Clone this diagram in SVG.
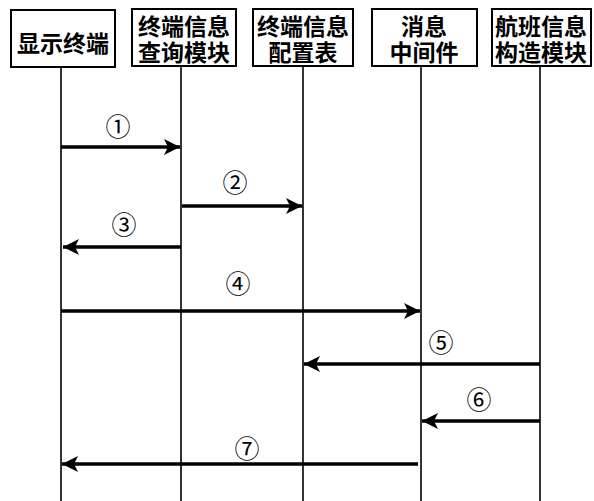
<svg xmlns="http://www.w3.org/2000/svg" width="594" height="501" viewBox="0 0 594 501">
<style>
.box{fill:#fff;stroke:#000;stroke-width:2}
.life{stroke:#000;stroke-width:1.6}
.t{font-family:"Noto Sans CJK SC",sans-serif;font-size:23px;font-weight:bold;text-anchor:middle;fill:#000}
.msg{stroke:#000;stroke-width:3.5;fill:none}
.n{font-family:"Noto Sans CJK SC",sans-serif;font-size:25px;text-anchor:middle;fill:#000}
</style>
<defs>
<marker id="ah" markerUnits="userSpaceOnUse" markerWidth="18" markerHeight="18" refX="16" refY="9" orient="auto">
<path d="M0,1 L16,9 L0,17 L4,9 Z" fill="#000"/>
</marker>
</defs>
<rect width="594" height="501" fill="#fff"/>
<g id="lifelines">
<line class="life" x1="61" y1="67" x2="61" y2="501"/>
<line class="life" x1="181" y1="66" x2="181" y2="501"/>
<line class="life" x1="303" y1="66" x2="303" y2="501"/>
<line class="life" x1="421" y1="66" x2="421" y2="501"/>
<line class="life" x1="540" y1="66" x2="540" y2="501"/>
</g>
<g id="n1"><rect class="box" x="11" y="10" width="104" height="57"/><text class="t" x="63" y="52">显示终端</text></g>
<g id="n2"><rect class="box" x="132" y="9" width="104" height="57"/><text class="t" x="184" y="35">终端信息<tspan x="184" dy="25.5">查询模块</tspan></text></g>
<g id="n3"><rect class="box" x="253" y="9" width="100" height="57"/><text class="t" x="303" y="35">终端信息<tspan x="303" dy="25.5">配置表</tspan></text></g>
<g id="n4"><rect class="box" x="372" y="9" width="105" height="57"/><text class="t" x="424" y="35">消息<tspan x="424" dy="25.5">中间件</tspan></text></g>
<g id="n5"><rect class="box" x="492" y="9" width="99" height="57"/><text class="t" x="541" y="35">航班信息<tspan x="541" dy="25.5">构造模块</tspan></text></g>
<g id="connectors">
<line class="msg" x1="61" y1="147" x2="180" y2="147" marker-end="url(#ah)"/>
<line class="msg" x1="182" y1="206" x2="302" y2="206" marker-end="url(#ah)"/>
<line class="msg" x1="181" y1="247" x2="63" y2="247" marker-end="url(#ah)"/>
<line class="msg" x1="61" y1="311" x2="420" y2="311" marker-end="url(#ah)"/>
<line class="msg" x1="540" y1="364" x2="304" y2="364" marker-end="url(#ah)"/>
<line class="msg" x1="540" y1="421" x2="422" y2="421" marker-end="url(#ah)"/>
<line class="msg" x1="418" y1="464" x2="62" y2="464" marker-end="url(#ah)"/>
</g>
<g id="labels">
<text class="n" x="118" y="136">①</text>
<text class="n" x="235" y="192">②</text>
<text class="n" x="124" y="234">③</text>
<text class="n" x="238" y="293">④</text>
<text class="n" x="441" y="352">⑤</text>
<text class="n" x="479" y="409">⑥</text>
<text class="n" x="247" y="458">⑦</text>
</g>
</svg>
